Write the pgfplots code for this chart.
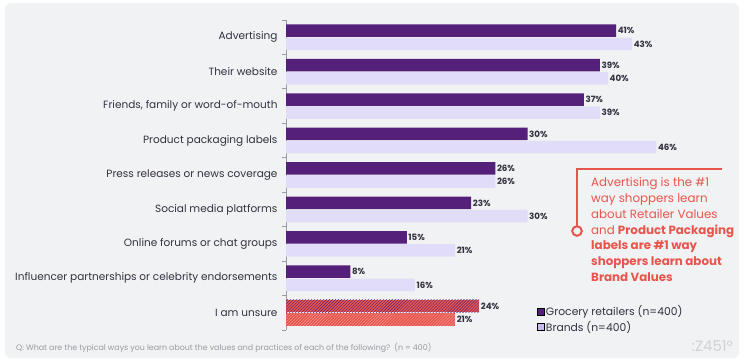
\documentclass[border=0pt]{standalone}
\usepackage{pgfplots}
\pgfplotsset{compat=1.18}
\usepackage{fontspec}
\setmainfont{Poppins}
\usetikzlibrary{patterns}
\definecolor{grocery}{HTML}{55207A}
\definecolor{brands}{HTML}{E1DCF8}
\definecolor{brandsleg}{HTML}{C8B9EC}
\definecolor{coral}{HTML}{E8554C}
\definecolor{bgc}{HTML}{F1F2F4}
\definecolor{txt}{HTML}{33313F}
\definecolor{axc}{HTML}{9A9AA2}
\begin{document}
\begin{tikzpicture}[x=1bp,y=1bp]
\path[fill=white] (0,0) rectangle (744,363);
\path[fill=bgc, rounded corners=6bp] (5,5) rectangle (739,360);
\begin{axis}[
  at={(286bp,33bp)}, anchor=south west,
  scale only axis, width=402.5bp, height=310bp,
  xmin=0, xmax=50, ymin=-0.5, ymax=8.5, y dir=reverse,
  xbar, bar width=12.5bp,
  axis lines=left, axis line style={-},
  x axis line style={draw=none},
  y axis line style={draw=axc, line width=0.8bp},
  xtick=\empty,
  ytick={0,...,8},
  yticklabels={Advertising,Their website,{Friends, family or word-of-mouth},Product packaging labels,Press releases or news coverage,Social media platforms,Online forums or chat groups,Influencer partnerships or celebrity endorsements,I am unsure},
  major tick length=0pt,
  minor ytick={-0.5,0.5,...,8.5},
  minor tick length=4bp,
  tick align=outside,
  minor tick style={draw=axc, line width=0.8bp},
  yticklabel style={font=\fontsize{10.55}{13}\selectfont, text=txt, xshift=-5bp},
  /pgf/number format/assume math mode=true,
  point meta=x,
  nodes near coords={\pgfmathprintnumber{\pgfplotspointmeta}\%},
  nodes near coords style={font=\bfseries\fontsize{8.7}{10}\selectfont, text=txt, inner xsep=1.5bp},
  clip=false,
  legend style={at={(axis description cs:0.622,0.085)}, anchor=north west, draw=none, fill=none,
     font=\fontsize{10.8}{13}\selectfont, text=txt, row sep=0bp, inner sep=0pt},
  legend cell align=left,
  legend image code/.code={\fill[#1] (0bp,-3.5bp) rectangle (7bp,3.5bp);},
]
\addplot[fill=grocery, draw=none, bar shift=6.6bp, forget plot] coordinates {
(41,0) (39,1) (37,2) (30,3) (26,4) (23,5) (15,6) (8,7)};
\addplot[fill=brands, draw=none, bar shift=-6.6bp, forget plot] coordinates {
(43,0) (40,1) (39,2) (46,3) (26,4) (30,5) (21,6) (16,7)};
\addplot[fill=coral, draw=none, bar shift=6.6bp, forget plot,
  postaction={pattern=north east lines, pattern color=grocery}] coordinates {(24,8)};
\addplot[fill=coral, draw=none, bar shift=-6.6bp, forget plot,
  postaction={pattern=north east lines, pattern color=coral!60!white}] coordinates {(21,8)};
\addlegendimage{fill=grocery}
\addlegendentry{Grocery retailers (n=400)}
\addlegendimage{fill=brandsleg}
\addlegendentry{Brands (n=400)}
\end{axis}
\draw[coral, line width=1.2bp] (722,194) -- (577,194) -- (577,137.5);
\draw[coral, line width=2bp, fill=bgc] (577,132) circle (4.8bp);
\node[anchor=north west, align=left, text=coral, inner sep=0pt,
  font=\fontsize{11.9}{16}\selectfont] at (591,186)
  {Advertising is the \#1\\way shoppers learn\\about Retailer Values\\and \textbf{Product Packaging}\\\textbf{labels are \#1 way}\\\textbf{shoppers learn about}\\\textbf{Brand Values}};
\node[anchor=west, inner sep=0pt, text=axc, font=\fontsize{7.9}{9}\selectfont] at (16,15)
  {Q: What are the typical ways you learn about the values and practices of each of the following?\ \ (n = 400)};
\node[anchor=east, inner sep=0pt, text=black!18, font=\fontsize{15}{16}\selectfont] at (733,17) {:Z451°};
\end{tikzpicture}
\end{document}
